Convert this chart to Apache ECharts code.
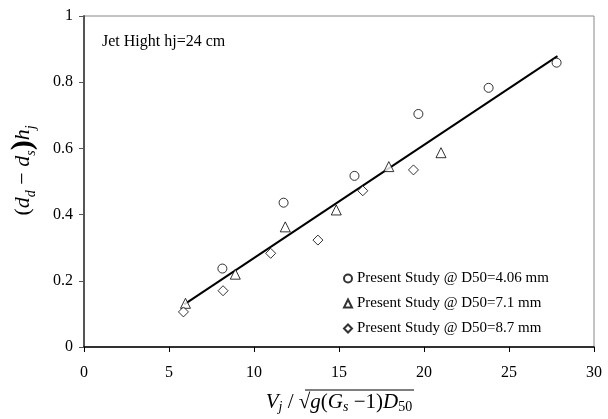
<!DOCTYPE html>
<html>
<head>
<meta charset="utf-8">
<script src="https://cdn.jsdelivr.net/npm/echarts@6/dist/echarts.min.js"></script>
<style>
  html, body { margin: 0; padding: 0; background: #fff; }
  #main { width: 608px; height: 419px; }
</style>
</head>
<body>
<div id="main"></div>
<script>
// D50 = 4.06 mm
var xCircle = [8.14, 11.74, 15.91, 19.67, 23.8, 27.8];
var yCircle = [0.237, 0.436, 0.517, 0.704, 0.783, 0.859];
// D50 = 7.1 mm
var xTriangle = [5.97, 8.9, 11.84, 14.84, 17.93, 21.0];
var yTriangle = [0.132, 0.22, 0.363, 0.414, 0.545, 0.587];
// D50 = 8.7 mm
var xDiamond = [5.85, 8.18, 10.98, 13.76, 16.4, 19.38];
var yDiamond = [0.106, 0.170, 0.283, 0.323, 0.472, 0.535];
// fitted line ends
var xFit = [5.9, 27.85];
var yFit = [0.129, 0.879];

var legendNames = [
    'Present Study @ D50=4.06 mm',
    'Present Study @ D50=7.1 mm',
    'Present Study @ D50=8.7 mm'
];

function pairs (xs, ys) {
    return xs.map(function (x, i) { return [x, ys[i]]; });
}

var font = 'Liberation Serif';
var hollow = { color: '#fff', borderColor: '#000', borderWidth: 1 };

var myChart = echarts.init(document.getElementById('main'));
myChart.setOption({
    animation: false,
    textStyle: { fontFamily: font },
    grid: {
        left: 84, right: 14, top: 16, bottom: 72,
        show: true, borderColor: '#888', borderWidth: 1
    },
    legend: {
        orient: 'vertical',
        left: 338, top: 266,
        itemWidth: 8, itemHeight: 8, itemGap: 10,
        data: legendNames,
        textStyle: { fontFamily: font, fontSize: 15, color: '#000' }
    },
    graphic: [
        {
            type: 'text', left: 102, top: 34,
            style: { text: 'Jet Hight hj=24 cm', font: '16px "Liberation Serif"', fill: '#000' }
        },
        {
            // radical overline of the x title
            type: 'line',
            shape: { x1: 305, y1: 390, x2: 414, y2: 390 },
            style: { stroke: '#000', lineWidth: 1 }
        }
    ],
    xAxis: {
        type: 'value', min: 0, max: 30, interval: 5,
        splitLine: { show: false },
        axisLine: { lineStyle: { color: '#000', width: 1.5 } },
        axisTick: { inside: false, length: 5, lineStyle: { color: '#000' } },
        axisLabel: { fontSize: 16, color: '#000', margin: 18, fontFamily: font },
        name: '{i|V}{t|j}{n| / √}{i|g}{n|(}{i|G}{t|s}{n| −1)}{i|D}{s|50}',
        nameLocation: 'middle',
        nameGap: 43,
        nameTextStyle: {
            rich: {
                i: { fontFamily: font, fontStyle: 'italic', fontSize: 21, color: '#000' },
                n: { fontFamily: font, fontSize: 21, color: '#000' },
                t: { fontFamily: font, fontStyle: 'italic', fontSize: 14, color: '#000', verticalAlign: 'bottom', padding: [10, 0, 0, 0] },
                s: { fontFamily: font, fontSize: 14, color: '#000', verticalAlign: 'bottom', padding: [10, 0, 0, 0] }
            }
        }
    },
    yAxis: {
        type: 'value', min: 0, max: 1, interval: 0.2,
        splitLine: { show: false },
        axisLine: { show: true, lineStyle: { color: '#555', width: 2 } },
        axisTick: { show: true, inside: false, length: 5, lineStyle: { color: '#555' } },
        axisLabel: { fontSize: 16, color: '#000', margin: 11, fontFamily: font },
        name: '{n|(}{i|d}{s|d}{n| − }{i|d}{s|s}{b|)}{i|h}{s|j}',
        nameLocation: 'middle',
        nameGap: 46,
        nameTextStyle: {
            padding: [0, 0, 0, 22],
            rich: {
                i: { fontFamily: font, fontStyle: 'italic', fontSize: 22, color: '#000' },
                n: { fontFamily: font, fontSize: 22, color: '#000' },
                b: { fontFamily: font, fontSize: 30, fontWeight: 'bold', color: '#000' },
                s: { fontFamily: font, fontStyle: 'italic', fontSize: 14, color: '#000', verticalAlign: 'bottom', padding: [10, 0, 0, 0] }
            }
        }
    },
    series: [
        {
            name: 'fit', type: 'line', data: pairs(xFit, yFit),
            symbol: 'none', lineStyle: { color: '#000', width: 2 }, z: 1
        },
        {
            name: legendNames[0], type: 'scatter', data: pairs(xCircle, yCircle),
            symbol: 'circle', symbolSize: 9, itemStyle: hollow, z: 3
        },
        {
            name: legendNames[1], type: 'scatter', data: pairs(xTriangle, yTriangle),
            symbol: 'triangle', symbolSize: 10, itemStyle: hollow, z: 3
        },
        {
            name: legendNames[2], type: 'scatter', data: pairs(xDiamond, yDiamond),
            symbol: 'diamond', symbolSize: 10, itemStyle: hollow, z: 3
        }
    ]
});
</script>
</body>
</html>
